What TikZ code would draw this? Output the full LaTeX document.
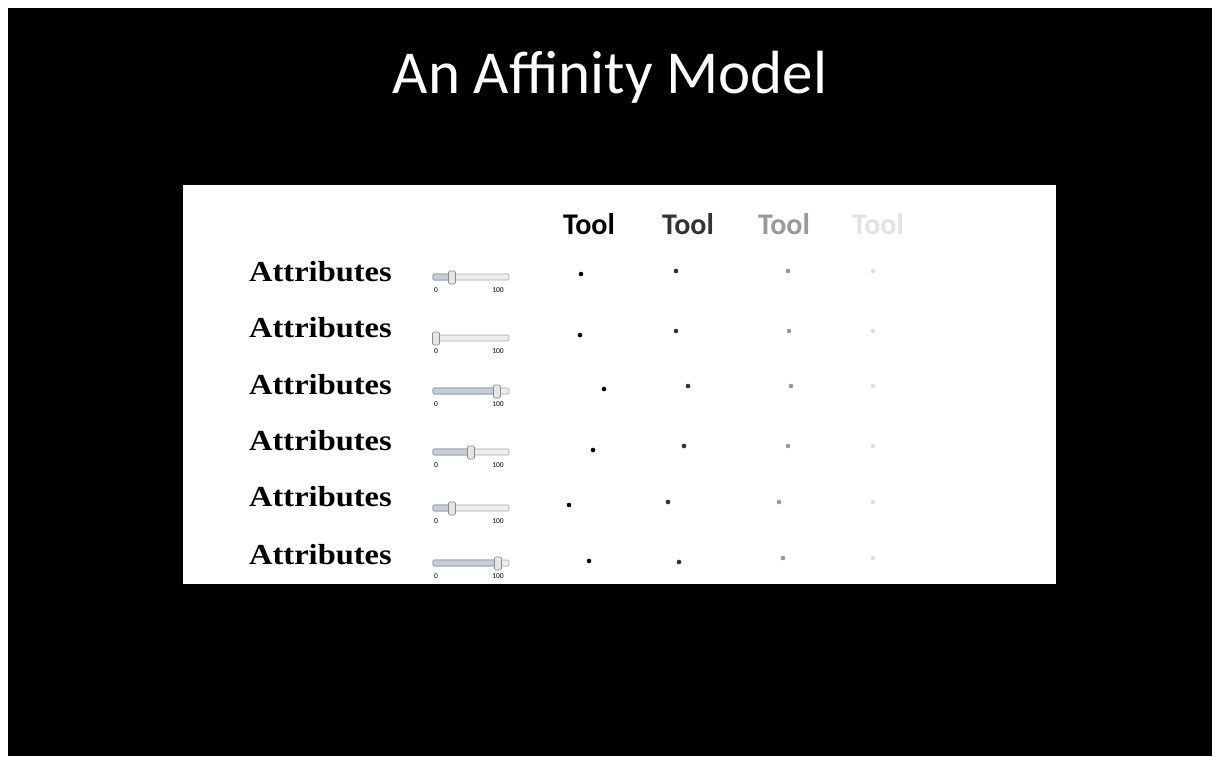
\documentclass[tikz,border=0pt]{standalone}
\usepackage{fontspec}
\setmainfont{Liberation Serif}
\newfontfamily\calfont{Carlito}
\definecolor{trackfill}{HTML}{EDEDED}
\definecolor{trackline}{HTML}{A8A8A8}
\definecolor{valfill}{HTML}{C6CDD9}
\definecolor{valline}{HTML}{8C95A3}
\definecolor{thumbfill}{HTML}{E6E6E6}
\definecolor{thumbline}{HTML}{8A8A8A}
\definecolor{toolA}{HTML}{000000}
\definecolor{toolB}{HTML}{333333}
\definecolor{toolC}{HTML}{999999}
\definecolor{toolD}{HTML}{E2E2E2}
\tikzset{
  attr/.style={inner sep=0pt, anchor=west, font=\fontsize{29}{32}\selectfont\bfseries, xscale=1.12},
  toolhead/.style={inner sep=0pt, font=\calfont\fontsize{30}{34}\selectfont\bfseries},
  ticklbl/.style={inner sep=0pt, font=\calfont\fontsize{7.5}{8}\selectfont},
  dotA/.style={circle, fill=toolA, inner sep=0pt, minimum size=4.6pt},
  dotB/.style={circle, fill=toolB, inner sep=0pt, minimum size=4.6pt},
  dotC/.style={circle, fill=toolC, inner sep=0pt, minimum size=4.6pt},
  dotD/.style={circle, fill=toolD, inner sep=0pt, minimum size=4.6pt},
}
% slider: #1 = track y, #2 = thumb centre x
\newcommand{\myslider}[2]{%
  \draw[trackline, fill=trackfill, line width=0.6pt, rounded corners=1pt] (433,#1-3) rectangle (509,#1+3);
  \draw[valline, fill=valfill, line width=0.6pt, rounded corners=1pt] (433,#1-3) rectangle (#2,#1+3);
  \draw[thumbline, fill=thumbfill, line width=0.6pt, rounded corners=1.2pt] (#2-3.5,#1-6) rectangle (#2+3.5,#1+7);
  \node[ticklbl] at (436,#1+13) {0};
  \node[ticklbl] at (498,#1+13) {100};
}
\begin{document}
\begin{tikzpicture}[x=1pt, y=-1pt]
\useasboundingbox (0,0) rectangle (1218,756);
\fill[white] (0,0) rectangle (1218,756);
\fill[black] (8,8) rectangle (1212,756);
\fill[white] (183,185) rectangle (1056,584);
\node[inner sep=0pt, text=white, font=\calfont\fontsize{61}{68}\selectfont] (title) at (610,77) {An Affinity Model};
% tool headers
\node[toolhead, text=toolA] (t1) at (589,224) {Tool};
\node[toolhead, text=toolB] (t2) at (688,224) {Tool};
\node[toolhead, text=toolC] (t3) at (784,224) {Tool};
\node[toolhead, text=toolD] (t4) at (878,224) {Tool};
% attributes
\node[attr] (a1) at (249,272) {Attributes};
\node[attr] (a2) at (249,328) {Attributes};
\node[attr] (a3) at (249,385) {Attributes};
\node[attr] (a4) at (249,441) {Attributes};
\node[attr] (a5) at (249,497) {Attributes};
\node[attr] (a6) at (249,555) {Attributes};
% sliders
\myslider{277}{452}
\myslider{338}{436}
\myslider{391}{497}
\myslider{452}{471}
\myslider{508}{452}
\myslider{563}{498}
% dots
\node[dotA] (d11) at (581,274) {}; \node[dotB] (d12) at (676,271) {}; \node[dotC] (d13) at (788,271) {}; \node[dotD] (d14) at (873,271) {};
\node[dotA] (d21) at (580,335) {}; \node[dotB] (d22) at (676,331) {}; \node[dotC] (d23) at (789,331) {}; \node[dotD] (d24) at (873,331) {};
\node[dotA] (d31) at (604,389) {}; \node[dotB] (d32) at (688,386) {}; \node[dotC] (d33) at (791,386) {}; \node[dotD] (d34) at (873,386) {};
\node[dotA] (d41) at (593,450) {}; \node[dotB] (d42) at (684,446) {}; \node[dotC] (d43) at (788,446) {}; \node[dotD] (d44) at (873,446) {};
\node[dotA] (d51) at (569,505) {}; \node[dotB] (d52) at (668,502) {}; \node[dotC] (d53) at (779,502) {}; \node[dotD] (d54) at (873,502) {};
\node[dotA] (d61) at (589,561) {}; \node[dotB] (d62) at (679,562) {}; \node[dotC] (d63) at (783,558) {}; \node[dotD] (d64) at (873,558) {};
\end{tikzpicture}
\end{document}
